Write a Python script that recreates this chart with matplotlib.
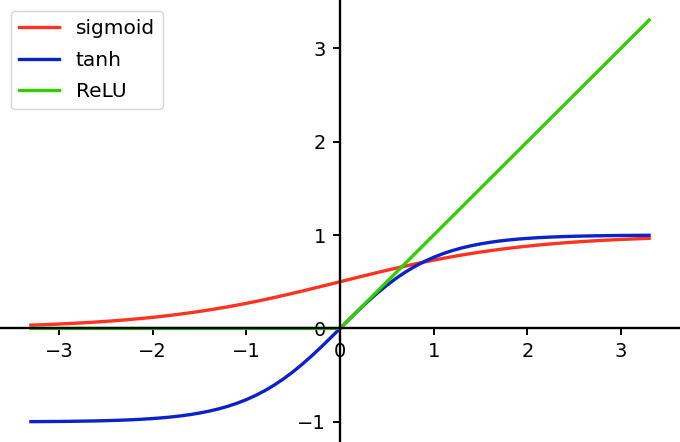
import matplotlib
matplotlib.use("Agg")
import matplotlib.pyplot as plt

x_vals = [-3.3, -3.2, -3.1, -3.0, -2.9, -2.8, -2.7, -2.6, -2.5, -2.4, -2.3, -2.2, -2.1, -2.0,
          -1.9, -1.8, -1.7, -1.6, -1.5, -1.4, -1.3, -1.2, -1.1, -1.0, -0.9, -0.8, -0.7, -0.6,
          -0.5, -0.4, -0.3, -0.2, -0.1, 0.0, 0.1, 0.2, 0.3, 0.4, 0.5, 0.6, 0.7, 0.8, 0.9, 1.0,
          1.1, 1.2, 1.3, 1.4, 1.5, 1.6, 1.7, 1.8, 1.9, 2.0, 2.1, 2.2, 2.3, 2.4, 2.5, 2.6, 2.7,
          2.8, 2.9, 3.0, 3.1, 3.2, 3.3]
sigmoid_vals = [0.0356, 0.0392, 0.0431, 0.0474, 0.0522, 0.0573, 0.0630, 0.0691, 0.0759, 0.0832,
                0.0911, 0.0998, 0.1091, 0.1192, 0.1301, 0.1419, 0.1545, 0.1680, 0.1824, 0.1978,
                0.2142, 0.2315, 0.2497, 0.2689, 0.2891, 0.3100, 0.3318, 0.3543, 0.3775, 0.4013,
                0.4256, 0.4502, 0.4750, 0.5000, 0.5250, 0.5498, 0.5744, 0.5987, 0.6225, 0.6457,
                0.6682, 0.6900, 0.7109, 0.7311, 0.7503, 0.7685, 0.7858, 0.8022, 0.8176, 0.8320,
                0.8455, 0.8581, 0.8699, 0.8808, 0.8909, 0.9002, 0.9089, 0.9168, 0.9241, 0.9309,
                0.9370, 0.9427, 0.9478, 0.9526, 0.9569, 0.9608, 0.9644]
tanh_vals = [-0.9973, -0.9967, -0.9959, -0.9951, -0.9940, -0.9926, -0.9910, -0.9890, -0.9866,
             -0.9837, -0.9801, -0.9757, -0.9705, -0.9640, -0.9562, -0.9468, -0.9354, -0.9217,
             -0.9051, -0.8854, -0.8617, -0.8337, -0.8005, -0.7616, -0.7163, -0.6640, -0.6044,
             -0.5370, -0.4621, -0.3799, -0.2913, -0.1974, -0.0997, 0.0, 0.0997, 0.1974, 0.2913,
             0.3799, 0.4621, 0.5370, 0.6044, 0.6640, 0.7163, 0.7616, 0.8005, 0.8337, 0.8617,
             0.8854, 0.9051, 0.9217, 0.9354, 0.9468, 0.9562, 0.9640, 0.9705, 0.9757, 0.9801,
             0.9837, 0.9866, 0.9890, 0.9910, 0.9926, 0.9940, 0.9951, 0.9959, 0.9967, 0.9973]
relu_x = [-3.3, 0.0, 3.3]
relu_vals = [0.0, 0.0, 3.3]
labels = ["sigmoid", "tanh", "ReLU"]
x_ticks = [-3, -2, -1, 0, 1, 2, 3]
y_ticks = [-1, 0, 1, 2, 3]

fig = plt.figure(figsize=(6.8, 4.42), dpi=100)
ax = fig.add_axes([0, 0, 1, 1])

lw = 2.4
ax.plot(x_vals, sigmoid_vals, color="#ff3322", lw=lw, label=labels[0])
ax.plot(x_vals, tanh_vals, color="#0a22c8", lw=lw, label=labels[1])
ax.plot(relu_x, relu_vals, color="#33cc00", lw=lw, label=labels[2])

ax.set_xlim(-3.63, 3.63)
ax.set_ylim(-1.215, 3.515)
ax.set_xticks(x_ticks)
ax.set_yticks(y_ticks)
ax.set_xticklabels([f"\u2212{abs(v)}" if v < 0 else str(v) for v in x_ticks])
ax.set_yticklabels([f"\u2212{abs(v)}" if v < 0 else str(v) for v in y_ticks])

for s in ["top", "right"]:
    ax.spines[s].set_visible(False)
ax.spines["left"].set_position(("data", 0))
ax.spines["bottom"].set_position(("data", 0))
for s in ["left", "bottom"]:
    ax.spines[s].set_linewidth(1.7)
    ax.spines[s].set_color("black")
ax.tick_params(axis="both", labelsize=14, length=5, width=1.4, pad=5)

leg = ax.legend(loc="upper left", fontsize=14.5, frameon=True, borderaxespad=0.55,
                handlelength=2.0, labelspacing=0.62)
leg.get_frame().set_edgecolor("#cccccc")

fig.savefig("out.png", dpi=100)
